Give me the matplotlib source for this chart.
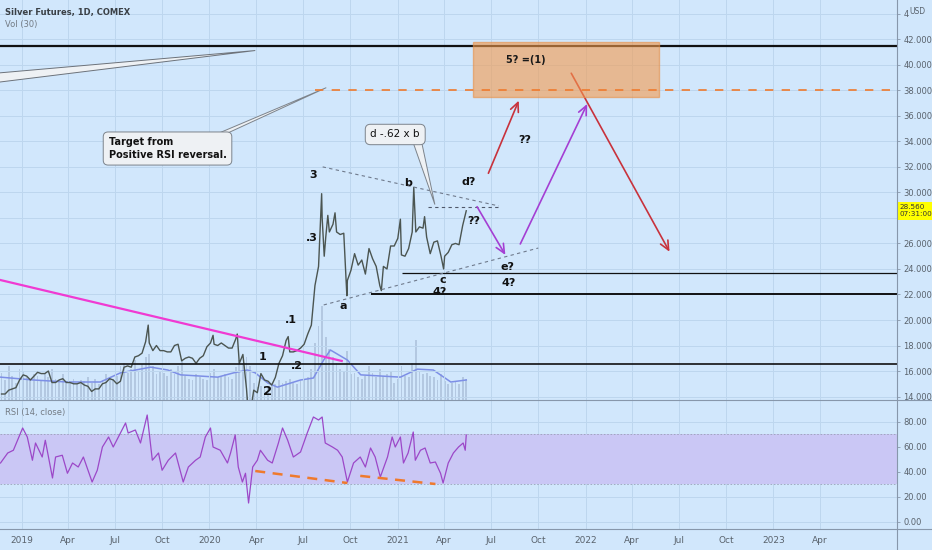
import matplotlib
matplotlib.use('Agg')
import matplotlib.pyplot as plt
import matplotlib.dates as mdates
import matplotlib.font_manager as fm
import matplotlib.transforms as mtransforms
from matplotlib.patches import Polygon, Rectangle
from matplotlib.lines import Line2D
import pandas as pd

# ---------------- data ----------------
week_start, week_end = '2018-11-23', '2021-05-14'
price_weekly = [
    14.2, 14.2, 14.5, 14.6, 14.7, 15.3,
    15.7, 15.6, 15.3, 15.6, 15.9, 15.8, 15.8, 16.0, 15.1, 15.1, 15.3, 15.4, 15.1,
    15.1, 15.0, 15.0, 15.1, 14.9, 14.8, 14.4, 14.6, 14.6, 15.0, 15.1, 15.4, 15.3,
    15.0, 15.2, 16.3, 16.4, 16.3, 17.1, 17.2, 17.4, 18.3, 18.2, 17.6, 18.0, 17.6,
    17.6, 17.5, 17.5, 18.0, 18.1, 16.8, 17.0, 17.1, 17.0, 16.6, 17.0, 17.2, 17.9,
    18.2, 18.1, 18.0, 18.2, 18.0, 17.8, 17.8, 18.5, 16.6, 17.3, 14.6, 12.6, 14.5,
    14.3, 15.8, 15.3, 15.2, 14.9, 15.5, 16.6, 17.2, 18.4, 17.5, 17.5, 17.6, 17.8,
    18.1, 18.9, 19.6, 22.7, 24.2, 28.0, 26.5, 26.9, 27.5, 26.9, 26.7, 26.8, 23.1,
    23.9, 25.2, 24.3, 24.7, 23.6, 25.6, 24.8, 24.2, 22.7, 24.2, 24.0, 25.8, 25.8,
    26.4, 25.1, 25.0, 25.6, 26.9, 26.9, 27.3, 27.2, 26.5, 25.2, 26.1, 26.2, 25.0,
    25.0, 25.3, 25.9, 26.0, 25.9, 27.4, 28.56,
]
volume_weekly = [
    95, 70, 120, 85, 60, 110,
    100, 80, 75, 90, 85, 70, 95, 80, 110, 75, 70, 90, 65,
    60, 75, 55, 70, 65, 80, 60, 75, 55, 70, 90, 80, 75,
    85, 120, 130, 95, 110, 140, 100, 125, 150, 160, 120, 90, 100,
    95, 85, 110, 90, 120, 140, 85, 75, 70, 90, 80, 75, 70,
    95, 110, 80, 85, 90, 80, 75, 115, 140, 130, 150, 120, 60,
    45, 50, 40, 45, 50, 55, 70, 60, 65, 75, 60, 55, 65,
    70, 80, 110, 200, 260, 330, 220, 180, 150, 130, 110, 100, 170,
    90, 95, 80, 75, 85, 120, 95, 80, 110, 85, 90, 100, 60,
    75, 120, 85, 80, 130, 210, 100, 90, 95, 85, 80, 70, 90,
    65, 55, 60, 65, 55, 80, 75,
]
spike_dates = ['2019-09-04', '2020-01-08', '2020-02-24', '2020-03-18', '2020-06-02',
               '2020-08-06', '2020-08-11', '2020-08-18', '2020-09-01', '2020-09-24',
               '2020-11-30', '2021-01-06', '2021-02-01', '2021-02-22', '2021-03-31']
spike_prices = [19.6, 18.8, 18.9, 12.0, 18.7, 29.9, 25.0, 28.2, 28.4, 21.9,
                22.3, 27.9, 30.4, 28.1, 24.0]
vol_ma_dates = ['2018-11-21', '2019-01-24', '2019-03-31', '2019-06-03', '2019-07-12',
                '2019-09-09', '2019-10-12', '2019-11-06', '2020-01-17', '2020-02-17',
                '2020-03-15', '2020-03-30', '2020-04-23', '2020-05-12', '2020-06-26',
                '2020-07-21', '2020-08-10', '2020-08-23', '2020-09-25', '2020-10-21',
                '2021-01-06', '2021-02-08', '2021-03-11', '2021-04-14', '2021-05-14']
vol_ma = [80, 70, 63, 63, 95, 115, 105, 88, 80, 95, 105, 95, 60, 45, 70,
          77, 140, 175, 140, 88, 80, 108, 105, 63, 70]
rsi_dates = [
    '2018-11-21', '2018-12-05', '2018-12-16', '2019-01-03', '2019-01-12', '2019-01-22',
    '2019-01-28', '2019-02-10', '2019-02-16', '2019-03-02', '2019-03-08', '2019-03-21',
    '2019-03-31', '2019-04-10', '2019-04-21', '2019-05-01', '2019-05-18', '2019-05-28',
    '2019-06-07', '2019-06-19', '2019-06-28', '2019-07-22', '2019-07-27', '2019-08-10',
    '2019-08-20', '2019-09-02', '2019-09-12', '2019-09-24', '2019-10-01', '2019-10-13',
    '2019-10-27', '2019-11-11', '2019-11-21', '2019-12-05', '2019-12-14', '2019-12-24',
    '2020-01-03', '2020-01-08', '2020-01-22', '2020-02-05', '2020-02-11', '2020-02-20',
    '2020-02-26', '2020-03-05', '2020-03-11', '2020-03-17', '2020-03-25', '2020-04-03',
    '2020-04-09', '2020-04-23', '2020-05-02', '2020-05-14', '2020-05-22', '2020-06-01',
    '2020-06-12', '2020-06-26', '2020-07-09', '2020-07-21', '2020-07-31', '2020-08-07',
    '2020-08-13', '2020-08-27', '2020-09-06', '2020-09-15', '2020-09-25', '2020-10-07',
    '2020-10-20', '2020-10-30', '2020-11-09', '2020-11-18', '2020-11-28', '2020-12-12',
    '2020-12-21', '2020-12-27', '2021-01-06', '2021-01-12', '2021-01-21', '2021-01-31',
    '2021-02-04', '2021-02-14', '2021-02-23', '2021-03-05', '2021-03-15', '2021-03-25',
    '2021-03-30', '2021-04-09', '2021-04-19', '2021-04-29', '2021-05-08', '2021-05-12',
    '2021-05-14',
]
rsi_values = [
    46.8, 54.8, 57.0, 74.8, 67.6, 49.0, 62.8, 51.6, 65.0, 34.8, 51.6, 53.0,
    38.6, 46.8, 43.6, 51.6, 31.6, 41.0, 59.6, 67.6, 59.6, 78.8, 70.8, 73.2,
    62.8, 85.2, 49.0, 54.8, 41.0, 49.0, 54.8, 31.6, 43.6, 49.0, 51.6, 67.6,
    74.8, 59.6, 57.0, 46.8, 54.8, 69.2, 43.6, 31.6, 38.6, 14.8, 43.6, 49.0,
    57.0, 49.0, 46.8, 62.8, 74.8, 65.0, 51.6, 55.6, 70.8, 83.6, 81.2, 83.6,
    62.8, 59.6, 57.0, 51.6, 31.6, 46.8, 51.6, 43.6, 58.8, 51.6, 35.6, 51.6,
    67.6, 59.6, 67.6, 46.8, 54.8, 71.6, 49.0, 57.0, 58.8, 46.8, 47.6, 38.6,
    30.8, 46.8, 54.8, 59.6, 62.8, 57.0, 69.2,
]
price_ticks = [14, 16, 18, 20, 22, 24, 26, 28, 30, 32, 34, 36, 38, 40, 42, 44]
price_tick_labels = ['14.000', '16.000', '18.000', '20.000', '22.000', '24.000', '26.000',
                     '', '30.000', '32.000', '34.000', '36.000', '38.000', '40.000',
                     '42.000', '4']
rsi_ticks = [0, 20, 40, 60, 80]
rsi_tick_labels = ['0.00', '20.00', '40.00', '60.00', '80.00']
date_ticks = ['2019-01-01', '2019-04-01', '2019-07-01', '2019-10-01', '2020-01-01',
              '2020-04-01', '2020-07-01', '2020-10-01', '2021-01-01', '2021-04-01',
              '2021-07-01', '2021-10-01', '2022-01-01', '2022-04-01', '2022-07-01',
              '2022-10-01', '2023-01-01', '2023-04-01']
date_tick_labels = ['2019', 'Apr', 'Jul', 'Oct', '2020', 'Apr', 'Jul', 'Oct', '2021', 'Apr',
                    'Jul', 'Oct', '2022', 'Apr', 'Jul', 'Oct', '2023', 'Apr']
x_range = ['2018-11-20', '2023-08-29']
price_range = [13.73, 45.08]
rsi_range = [-6.0, 97.2]
vol_range = [0, 1400]

# drawings
black_levels = [41.5, 22.0, 23.7, 16.55]
black_level_from = ['2018-11-20', '2020-11-09', '2021-01-10', '2018-11-20']
target_level = 38.0
target_level_from = '2020-07-25'
pink_dates = ['2018-11-20', '2020-09-14']
pink_prices = [23.14, 16.79]
tri_upper_dates = ['2020-08-08', '2021-07-16']
tri_upper_prices = [32.0, 28.94]
tri_lower_dates = ['2020-08-10', '2021-10-01']
tri_lower_prices = [21.18, 25.64]
d_level_dates = ['2021-02-28', '2021-07-16']
d_level = 28.86
box_dates = ['2021-05-27', '2022-05-24']
box_prices = [37.45, 41.76]
arrow_from_dates = ['2021-06-26', '2021-06-04', '2021-08-27', '2021-12-04']
arrow_from_prices = [31.50, 28.88, 25.96, 39.34]
arrow_to_dates = ['2021-08-24', '2021-07-29', '2022-01-04', '2022-06-13']
arrow_to_prices = [37.19, 25.10, 36.93, 25.35]
wave_texts = ['3', '.3', 'a', 'b', 'c', 'd?', '??', '4?', 'e?', '4?', '??', '1', '.1', '.2', '2']
wave_dates = ['2020-07-21', '2020-07-17', '2020-09-17', '2021-01-21', '2021-03-29',
              '2021-05-18', '2021-05-28', '2021-03-23', '2021-08-02', '2021-08-04',
              '2021-09-04', '2020-04-13', '2020-06-07', '2020-06-18', '2020-04-23']
wave_prices = [31.37, 26.43, 21.10, 30.74, 23.14, 30.82, 27.76, 22.2, 24.16, 22.9,
               34.1, 17.1, 20.0, 16.4, 14.36]
box_text = '5? =(1)'
box_text_date, box_text_price = '2021-07-31', 40.38
wedge_top_dates = ['2018-09-04', '2020-03-30', '2018-09-04']
wedge_top_prices = [39.10, 41.12, 38.27]
target_text = 'Target from\nPositive RSI reversal.'
target_text_date, target_text_price = '2019-06-19', 33.44
target_wedge_dates = ['2019-12-24', '2020-08-15', '2020-01-12']
target_wedge_prices = [34.2, 38.21, 34.2]
d_text = 'd -.62 x b'
d_text_date, d_text_price = '2020-12-27', 34.54
d_wedge_dates = ['2021-01-30', '2021-03-14', '2021-02-16']
d_wedge_prices = [34.0, 29.05, 34.0]
rsi_div_dates = [['2020-03-30', '2020-09-25'], ['2020-10-20', '2021-03-15']]
rsi_div_values = [[40.4, 30.8], [36.5, 30.0]]
last_time = '07:31:00'

# ---------------- style ----------------
names = {f.name for f in fm.fontManager.ttflist}
NARROW = 'Liberation Sans Narrow' if 'Liberation Sans Narrow' in names else 'DejaVu Sans'
plt.rcParams['font.family'] = [NARROW, 'DejaVu Sans']

BG = '#d1e7fc'
GRID = '#bdd6ee'
AXLINE = '#8797ab'
LABC = '#59626c'
RED = '#c8323c'
PURPLE = '#a43fd3'
ORANGE = '#ef7a2d'

W, H = 932, 550
PR = 897

def dn(s):
    return mdates.date2num(pd.Timestamp(s))

def dnl(lst):
    return [dn(s) for s in lst]

fig = plt.figure(figsize=(W / 100, H / 100), dpi=100, facecolor=BG)
ax = fig.add_axes([0, 150 / H, PR / W, 400 / H])
axr = fig.add_axes([0, 21 / H, PR / W, 129 / H], sharex=ax, facecolor=BG)
axv = ax.twinx()
axv.axis('off')
ax.set_zorder(axv.get_zorder() + 1)
ax.patch.set_visible(False)

for a in (ax, axr):
    for s in a.spines.values():
        s.set_visible(False)

x0, x1 = dn(x_range[0]), dn(x_range[1])
ax.set_xlim(x0, x1)
ax.set_ylim(*price_range)
axr.set_ylim(*rsi_range)
axv.set_ylim(*vol_range)

# ticks
ax.yaxis.tick_right()
ax.set_yticks(price_ticks, price_tick_labels)
axr.yaxis.tick_right()
axr.set_yticks(rsi_ticks, rsi_tick_labels)
for a in (ax, axr):
    a.tick_params(axis='y', direction='out', length=2.5, width=0.6, color=AXLINE,
                  labelsize=6, labelcolor=LABC, pad=2)
axr.set_xticks(dnl(date_ticks), date_tick_labels)
axr.tick_params(axis='x', length=0, labelsize=6.5, labelcolor=LABC, pad=5)
ax.tick_params(axis='x', length=0, labelbottom=False)
for a in (ax, axr):
    a.grid(True, color=GRID, lw=0.7)
    a.set_axisbelow(True)

# volume
wdates = pd.date_range(week_start, week_end, freq='W-FRI')
axv.bar(mdates.date2num(wdates), volume_weekly, width=3.5, color='#b0c5df', alpha=0.9,
        linewidth=0)
axv.plot(dnl(vol_ma_dates), vol_ma, color='#7d8fe6', lw=1.1)

# price
ps = pd.Series(price_weekly, index=wdates)
spk = pd.Series(spike_prices, index=pd.to_datetime(spike_dates))
allp = pd.concat([ps, spk]).sort_index()
ax.plot(mdates.date2num(allp.index), allp.values, color='#4b5551', lw=1.0, zorder=3)

# horizontal levels
lws = [1.6, 1.4, 0.9, 1.2]
for lvl, frm, lw in zip(black_levels, black_level_from, lws):
    ax.hlines(lvl, dn(frm), x1, color='#111111', lw=lw, zorder=4)
ax.hlines(target_level, dn(target_level_from), x1, color=ORANGE, lw=1.2,
          linestyles=(0, (5, 5)), zorder=6)

# pink trendline
ax.plot(dnl(pink_dates), pink_prices, color='#f03ad2', lw=1.6, zorder=4)

# triangle dashed lines
for d, p in ((tri_upper_dates, tri_upper_prices), (tri_lower_dates, tri_lower_prices)):
    ax.plot(dnl(d), p, color='#6f7a8c', lw=0.8, ls=(0, (3, 3)), zorder=4)
ax.plot(dnl(d_level_dates), [d_level, d_level], color='#50586a', lw=0.8,
        ls=(0, (3, 3)), zorder=4)

# arrows
arrow_colors = [RED, PURPLE, PURPLE, RED]
arrow_z = [7, 7, 7, 4]
for fd, fp, td, tp, c, z in zip(arrow_from_dates, arrow_from_prices, arrow_to_dates,
                                arrow_to_prices, arrow_colors, arrow_z):
    ax.annotate('', xy=(dn(td), tp), xytext=(dn(fd), fp),
                arrowprops=dict(arrowstyle='->,head_length=0.65,head_width=0.3',
                                color=c, lw=1.2, shrinkA=0, shrinkB=0,
                                mutation_scale=10), zorder=z)

# orange box
bx0, bx1 = dn(box_dates[0]), dn(box_dates[1])
ax.add_patch(Rectangle((bx0, box_prices[0]), bx1 - bx0, box_prices[1] - box_prices[0],
                       facecolor='#f59a4c', alpha=0.6, edgecolor='#e98f45', lw=1.0,
                       zorder=5))
ax.text(dn(box_text_date), box_text_price, box_text, ha='left', va='center',
        fontsize=7, fontweight='bold', color='#1a1a1a', zorder=8)

# wave labels
for t, d, p in zip(wave_texts, wave_dates, wave_prices):
    fs = 9.5 if t == '2' else 8
    ax.text(dn(d), p, t, ha='center', va='center', fontsize=fs, fontweight='bold',
            color='#111111', zorder=8)

# callouts
ax.add_patch(Polygon(list(zip(dnl(wedge_top_dates), wedge_top_prices)), closed=True,
                     facecolor='#eef1f4', edgecolor='#6c727a', lw=0.7, zorder=5))
ax.add_patch(Polygon(list(zip(dnl(target_wedge_dates), target_wedge_prices)), closed=True,
                     facecolor='#eef1f4', edgecolor='#7c838b', lw=0.7, zorder=5))
ax.text(dn(target_text_date), target_text_price, target_text, ha='left', va='center',
        fontsize=7, fontweight='bold', color='#111111', linespacing=1.3, zorder=6,
        bbox=dict(boxstyle='round,pad=0.55,rounding_size=0.5', fc='#eef1f4',
                  ec='#7c838b', lw=0.7))
ax.add_patch(Polygon(list(zip(dnl(d_wedge_dates), d_wedge_prices)), closed=True,
                     facecolor='#eef1f4', edgecolor='#7c838b', lw=0.7, zorder=5))
ax.text(dn(d_text_date), d_text_price, d_text, ha='center', va='center',
        fontsize=7.5, color='#111111', zorder=6,
        bbox=dict(boxstyle='round,pad=0.5,rounding_size=0.5', fc='#eef1f4',
                  ec='#7c838b', lw=0.7))

# last price label
trans = mtransforms.blended_transform_factory(fig.transFigure, ax.transData)
ax.text(899 / W, price_weekly[-1] + 0.5, f'{price_weekly[-1]:.3f}\n{last_time}',
        transform=trans, ha='left', va='top', fontsize=5.2, color='#333333',
        linespacing=1.2, zorder=10,
        bbox=dict(boxstyle='square,pad=0.3', fc='#ffff00', ec='none'))

# RSI pane
axr.axhspan(30, 70, facecolor='#cac7f5', edgecolor='none', zorder=1)
for lvl in (30, 70):
    axr.axhline(lvl, color='#9aa1b8', lw=0.6, ls=(0, (2, 2)), zorder=2)
axr.plot(dnl(rsi_dates), rsi_values, color='#9c48c8', lw=0.9, zorder=3)
for d, v in zip(rsi_div_dates, rsi_div_values):
    axr.plot(dnl(d), v, color=ORANGE, lw=1.8, ls=(0, (4, 3)), zorder=4)

# headers
fig.text(5 / W, 1 - 13 / H, 'Silver Futures, 1D, COMEX', fontsize=6, fontweight='bold',
         color='#3a4046', va='center')
fig.text(5 / W, 1 - 25 / H, 'Vol (30)', fontsize=6, color='#737b84', va='center')
fig.text(5 / W, 1 - 413 / H, 'RSI (14, close)', fontsize=6, color='#737b84', va='center')
fig.text(909 / W, 1 - 11 / H, 'USD', fontsize=5.5, color=LABC, va='center')

# pane separators
fig.add_artist(Line2D([0, 1], [150 / H, 150 / H], color=AXLINE, lw=0.8))
fig.add_artist(Line2D([0, 1], [21 / H, 21 / H], color=AXLINE, lw=0.8))
fig.add_artist(Line2D([PR / W, PR / W], [0, 1], color=AXLINE, lw=0.8))

fig.savefig('out.png', dpi=100, facecolor=BG)
